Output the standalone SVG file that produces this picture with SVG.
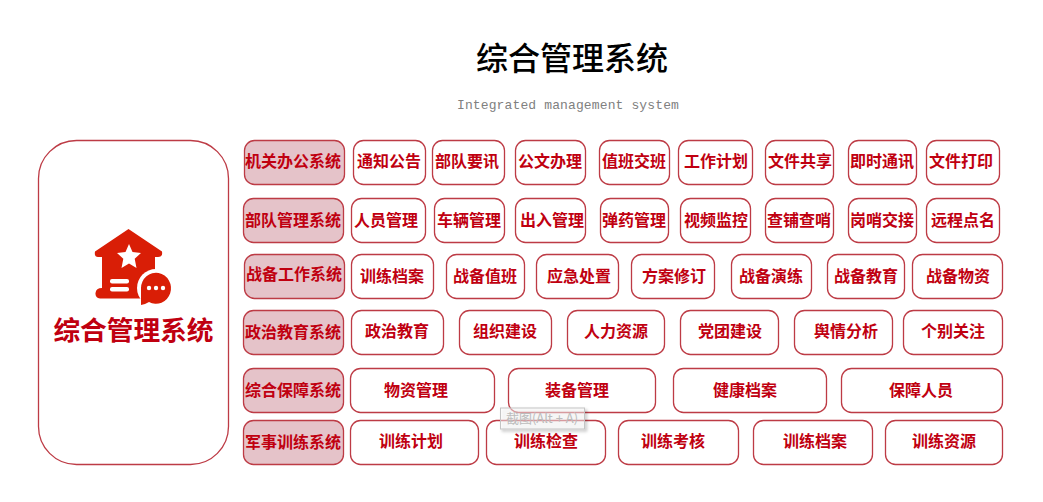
<svg xmlns="http://www.w3.org/2000/svg" width="1043" height="502" viewBox="0 0 1043 502">
<defs>
<style>
text{text-anchor:middle;font-family:"Noto Sans CJK SC","Liberation Sans",sans-serif}
rect.b{fill:#fff;stroke:#bd3b45;stroke-width:1.3;transform:translate(.5px,.5px)}
rect.h{fill:#e5c3c9;stroke:#bd3b45;stroke-width:1.3;transform:translate(.5px,.5px)}
.t{font-size:16px;font-weight:700;fill:#c00010}
</style>
<filter id="sh" x="-10%" y="-20%" width="125%" height="150%"><feDropShadow dx="2" dy="2" stdDeviation="1.5" flood-color="#000" flood-opacity=".3"/></filter>
</defs>
<rect width="1043" height="502" fill="#fff"/>
<text x="572" y="70" font-size="32" font-weight="500" fill="#000">综合管理系统</text>
<text x="568" y="109" font-size="13" letter-spacing=".13" fill="#808080" style="font-family:'Liberation Mono',monospace">Integrated management system</text>
<g id="main">
<rect x="38" y="140" width="190" height="324" rx="38" class="b"/>
<path d="M128.500 229L162 251.500Q163 257 158 257H155V288Q147 290 143 298.500H100Q95 298 95.500 293Q96 288 102 288V257H98Q94 257 95 251.500Z" fill="#d91e06"/>
<path d="M129 244L132.500 252L141 253L134.700 258.700L136.500 268L129 263.500L121.500 268L123.300 258.700L117 253L125.500 252Z" fill="#fff"/>
<rect x="110" y="279" width="19" height="4.500" rx="2" fill="#fff"/><rect x="110" y="287" width="19" height="4.500" rx="2" fill="#fff"/>
<circle cx="156" cy="288" r="19" fill="#fff"/>
<path d="M141 305V288A15 15.500 0 1 1 149 302Q145 304.500 141 305Z" fill="#d91e06"/>
<circle cx="149" cy="288" r="2.200" fill="#fff"/><circle cx="156" cy="288" r="2.200" fill="#fff"/><circle cx="163" cy="288" r="2.200" fill="#fff"/>
<text x="133.500" y="340" font-size="26.700" font-weight="700" fill="#c00010">综合管理系统</text>
</g>
<g id="row1">
<g id="h1"><rect x="244" y="140" width="100" height="44" rx="10" class="h"/><text x="293" y="167" class="t">机关办公系统</text></g>
<g id="n1-1"><rect x="353" y="140" width="72" height="44" rx="10" class="b"/><text x="389" y="167" class="t">通知公告</text></g>
<g id="n1-2"><rect x="432" y="140" width="72" height="44" rx="10" class="b"/><text x="467" y="167" class="t">部队要讯</text></g>
<g id="n1-3"><rect x="515" y="140" width="70" height="44" rx="10" class="b"/><text x="550" y="167" class="t">公文办理</text></g>
<g id="n1-4"><rect x="599" y="140" width="70" height="44" rx="10" class="b"/><text x="634" y="167" class="t">值班交班</text></g>
<g id="n1-5"><rect x="678" y="140" width="74" height="44" rx="10" class="b"/><text x="716" y="167" class="t">工作计划</text></g>
<g id="n1-6"><rect x="765" y="140" width="68" height="44" rx="10" class="b"/><text x="800" y="167" class="t">文件共享</text></g>
<g id="n1-7"><rect x="848" y="140" width="68" height="44" rx="10" class="b"/><text x="882" y="167" class="t">即时通讯</text></g>
<g id="n1-8"><rect x="926" y="140" width="73" height="44" rx="10" class="b"/><text x="961" y="167" class="t">文件打印</text></g>
</g>
<g id="row2">
<g id="h2"><rect x="243" y="198" width="100" height="44" rx="10" class="h"/><text x="293" y="226" class="t">部队管理系统</text></g>
<g id="n2-1"><rect x="351" y="198" width="74" height="44" rx="10" class="b"/><text x="386" y="226" class="t">人员管理</text></g>
<g id="n2-2"><rect x="434" y="198" width="70" height="44" rx="10" class="b"/><text x="469" y="226" class="t">车辆管理</text></g>
<g id="n2-3"><rect x="515" y="198" width="70" height="44" rx="10" class="b"/><text x="552" y="226" class="t">出入管理</text></g>
<g id="n2-4"><rect x="600" y="198" width="68" height="44" rx="10" class="b"/><text x="634" y="226" class="t">弹药管理</text></g>
<g id="n2-5"><rect x="680" y="198" width="70" height="44" rx="10" class="b"/><text x="716" y="226" class="t">视频监控</text></g>
<g id="n2-6"><rect x="765" y="198" width="68" height="44" rx="10" class="b"/><text x="799" y="226" class="t">查铺查哨</text></g>
<g id="n2-7"><rect x="848" y="198" width="68" height="44" rx="10" class="b"/><text x="882" y="226" class="t">岗哨交接</text></g>
<g id="n2-8"><rect x="926" y="198" width="73" height="44" rx="10" class="b"/><text x="963" y="226" class="t">远程点名</text></g>
</g>
<g id="row3">
<g id="h3"><rect x="244" y="254" width="100" height="44" rx="10" class="h"/><text x="294" y="280" class="t">战备工作系统</text></g>
<g id="n3-1"><rect x="351" y="254" width="82" height="44" rx="10" class="b"/><text x="392" y="282" class="t">训练档案</text></g>
<g id="n3-2"><rect x="446" y="254" width="78" height="44" rx="10" class="b"/><text x="485" y="282" class="t">战备值班</text></g>
<g id="n3-3"><rect x="536" y="254" width="82" height="44" rx="10" class="b"/><text x="579" y="282" class="t">应急处置</text></g>
<g id="n3-4"><rect x="631" y="254" width="83" height="44" rx="10" class="b"/><text x="674" y="282" class="t">方案修订</text></g>
<g id="n3-5"><rect x="731" y="254" width="80" height="44" rx="10" class="b"/><text x="771" y="282" class="t">战备演练</text></g>
<g id="n3-6"><rect x="827" y="254" width="77" height="44" rx="10" class="b"/><text x="866" y="282" class="t">战备教育</text></g>
<g id="n3-7"><rect x="912" y="254" width="90" height="44" rx="10" class="b"/><text x="958" y="282" class="t">战备物资</text></g>
</g>
<g id="row4">
<g id="h4"><rect x="243" y="310" width="100" height="44" rx="10" class="h"/><text x="293" y="338" class="t">政治教育系统</text></g>
<g id="n4-1"><rect x="351" y="310" width="92" height="44" rx="10" class="b"/><text x="397" y="337" class="t">政治教育</text></g>
<g id="n4-2"><rect x="459" y="310" width="92" height="44" rx="10" class="b"/><text x="505" y="337" class="t">组织建设</text></g>
<g id="n4-3"><rect x="567" y="310" width="97" height="44" rx="10" class="b"/><text x="616" y="337" class="t">人力资源</text></g>
<g id="n4-4"><rect x="680" y="310" width="98" height="44" rx="10" class="b"/><text x="730" y="337" class="t">党团建设</text></g>
<g id="n4-5"><rect x="794" y="310" width="98" height="44" rx="10" class="b"/><text x="846" y="337" class="t">舆情分析</text></g>
<g id="n4-6"><rect x="903" y="310" width="99" height="44" rx="10" class="b"/><text x="953" y="337" class="t">个别关注</text></g>
</g>
<g id="row5">
<g id="h5"><rect x="243" y="368" width="100" height="44" rx="10" class="h"/><text x="293" y="396" class="t">综合保障系统</text></g>
<g id="n5-1"><rect x="350" y="368" width="144" height="44" rx="10" class="b"/><text x="416" y="396" class="t">物资管理</text></g>
<g id="n5-2"><rect x="508" y="368" width="147" height="44" rx="10" class="b"/><text x="577" y="396" class="t">装备管理</text></g>
<g id="n5-3"><rect x="673" y="368" width="153" height="44" rx="10" class="b"/><text x="745" y="396" class="t">健康档案</text></g>
<g id="n5-4"><rect x="841" y="368" width="161" height="44" rx="10" class="b"/><text x="921" y="396" class="t">保障人员</text></g>
</g>
<g id="row6">
<g id="h6"><rect x="243" y="420" width="100" height="44" rx="10" class="h"/><text x="293" y="448" class="t">军事训练系统</text></g>
<g id="n6-1"><rect x="350" y="420" width="128" height="44" rx="10" class="b"/><text x="411" y="447" class="t">训练计划</text></g>
<g id="n6-2"><rect x="486" y="420" width="119" height="44" rx="10" class="b"/><text x="546" y="447" class="t">训练检查</text></g>
<g id="n6-3"><rect x="618" y="420" width="120" height="44" rx="10" class="b"/><text x="673" y="447" class="t">训练考核</text></g>
<g id="n6-4"><rect x="753" y="420" width="119" height="44" rx="10" class="b"/><text x="815" y="447" class="t">训练档案</text></g>
<g id="n6-5"><rect x="885" y="420" width="117" height="44" rx="10" class="b"/><text x="944" y="447" class="t">训练资源</text></g>
</g>
<g id="tooltip">
<rect x="500.500" y="408" width="84" height="21" fill="#fff" fill-opacity=".45" stroke="#c4c4c4" filter="url(#sh)"/>
<text x="542" y="423" font-size="13" fill="#bcbcbc">截图(Alt + A)</text>
</g>
</svg>
